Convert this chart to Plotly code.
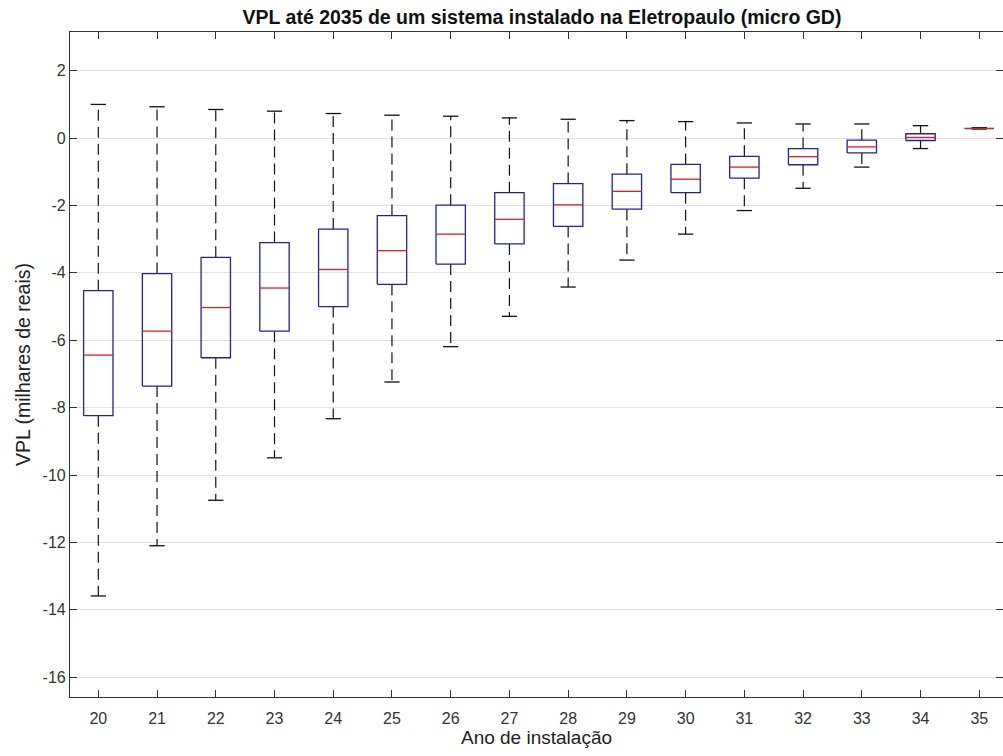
import plotly.graph_objects as go

anos = list(range(20, 36))
upper_whisker = [1.00, 0.93, 0.85, 0.80, 0.73, 0.68, 0.65, 0.60, 0.56, 0.52, 0.49, 0.45, 0.42, 0.42, 0.37, 0.31]
q3 = [-4.53, -4.02, -3.54, -3.10, -2.70, -2.30, -1.99, -1.62, -1.35, -1.07, -0.78, -0.54, -0.31, -0.06, 0.13, 0.30]
median = [-6.44, -5.73, -5.03, -4.45, -3.90, -3.34, -2.85, -2.41, -1.98, -1.58, -1.22, -0.86, -0.55, -0.26, 0.02, 0.29]
q1 = [-8.24, -7.36, -6.52, -5.73, -5.00, -4.34, -3.74, -3.14, -2.62, -2.11, -1.62, -1.19, -0.79, -0.44, -0.07, 0.28]
lower_whisker = [-13.59, -12.10, -10.75, -9.49, -8.33, -7.24, -6.19, -5.29, -4.42, -3.62, -2.85, -2.15, -1.49, -0.86, -0.31, 0.27]

y_ticks = [2, 0, -2, -4, -6, -8, -10, -12, -14, -16]
y_tick_labels = ["2", "0", "-2", "-4", "-6", "-8", "-10", "-12", "-14", "-16"]

BOX_HALF = 0.25
CAP_HALF = 0.13

wx, wy, cx, cy, bx, by, mx, my = [], [], [], [], [], [], [], []
for x, hi, a, m, b, lo in zip(anos, upper_whisker, q3, median, q1, lower_whisker):
    wx += [x, x, None, x, x, None]
    wy += [a, hi, None, b, lo, None]
    cx += [x - CAP_HALF, x + CAP_HALF, None, x - CAP_HALF, x + CAP_HALF, None]
    cy += [hi, hi, None, lo, lo, None]
    bx += [x - BOX_HALF, x + BOX_HALF, x + BOX_HALF, x - BOX_HALF, x - BOX_HALF, None]
    by += [b, b, a, a, b, None]
    mx += [x - BOX_HALF, x + BOX_HALF, None]
    my += [m, m, None]

fig = go.Figure()
fig.add_trace(go.Scatter(x=wx, y=wy, mode="lines", line=dict(color="#111111", width=1.2, dash="11px,6px"),
                         hoverinfo="skip", showlegend=False))
fig.add_trace(go.Scatter(x=cx, y=cy, mode="lines", line=dict(color="#111111", width=1.3),
                         hoverinfo="skip", showlegend=False))
fig.add_trace(go.Scatter(x=bx, y=by, mode="lines", line=dict(color="#22229a", width=1.3),
                         hoverinfo="skip", showlegend=False))
fig.add_trace(go.Scatter(x=mx, y=my, mode="lines", line=dict(color="#e02020", width=1.3),
                         hoverinfo="skip", showlegend=False))

font_family = "Liberation Sans, Arial, sans-serif"
fig.update_layout(
    width=1003, height=756,
    autosize=False,
    margin=dict(l=70, r=0, t=32, b=59),
    paper_bgcolor="white",
    plot_bgcolor="white",
    font=dict(family=font_family, color="#333333", size=16),
    title=dict(text="<b>VPL até 2035 de um sistema instalado na Eletropaulo (micro GD)</b>",
               x=542 / 1003, xref="container", xanchor="center", y=0.977, yanchor="middle",
               font=dict(size=19.5, color="#111111", family=font_family)),
    xaxis=dict(
        range=[19.518, 35.404],
        tickvals=anos,
        ticktext=[str(a) for a in anos],
        ticks="inside", ticklen=7, tickwidth=1, tickcolor="#333333",
        showline=True, linecolor="#333333", linewidth=1.2, mirror="ticks",
        showgrid=False, zeroline=False,
        ticklabelstandoff=7,
        tickfont=dict(size=16, color="#333333"),
        title=dict(text="Ano de instalação", font=dict(size=19, color="#222222"), standoff=4),
    ),
    yaxis=dict(
        range=[-16.59, 3.15],
        tickvals=y_ticks,
        ticktext=y_tick_labels,
        ticks="inside", ticklen=7, tickwidth=1, tickcolor="#333333",
        showline=True, linecolor="#333333", linewidth=1.2, mirror="ticks",
        showgrid=True, gridcolor="#e2e2e2", gridwidth=1, zeroline=False,
        tickfont=dict(size=16, color="#333333"),
        title=dict(text="VPL (milhares de reais)", font=dict(size=19.5, color="#222222"), standoff=6),
    ),
)

fig.write_html("out.html")
